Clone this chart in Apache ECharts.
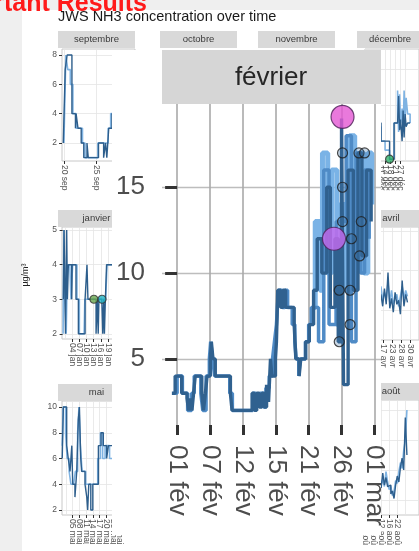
<!DOCTYPE html>
<html><head><meta charset="utf-8">
<script src="https://cdn.jsdelivr.net/npm/echarts@6/dist/echarts.min.js"></script>
<style>html,body{margin:0;padding:0;background:#fff}#c{width:419px;height:551px}</style>
</head><body><div id="c"></div>
<script>
// ---------- data ----------
const febTicks = [0,1,2,3,4,5,6];
const febLabels = ['01 fév','07 fév','12 fév','15 fév','21 fév','26 fév','01 mar'];
const febYTicks = [5,10,15];
const febDarkX = [-0.16,-0.06,0.14,0.30,0.35,0.40,0.45,0.50,0.55,0.75,0.80,0.86,0.91,1.01,1.04,1.09,1.16,1.62,1.67,2.28,2.35,2.42,2.50,2.58,2.65,2.72,2.78,2.84,2.88,2.99,3.02,3.06,3.15,3.22,3.30,3.40,3.56,3.61,3.71,3.76,3.91,4.02,4.15,4.26,4.40,4.55,4.66,4.80,4.90,5.00,5.06,5.20,5.36,5.50,5.62,5.76,5.90];
const febDarkY = [3,4,3,2.7,2,2.7,2,3,4,3,2,3,4,5,6,5,4,3,2,3,2,3,2.2,3,2.2,3.5,2.5,5,4,5,6,9,8,9,8,8,7,5,4,5,6,7,9,12,10,15,8,12,6,19,3.5,16,9,17,11,16,13];
const febMidX = [-0.1,0.0,0.16,0.32,0.44,0.52,0.72,0.78,0.88,0.98,1.02,1.08,1.14,1.60,1.68,2.30,2.40,2.52,2.62,2.70,2.80,2.90,2.96,3.02,3.08,3.20,3.28,3.36,3.50,3.58,3.62,3.70,3.74,3.90,4.00,4.08,4.30,4.46,4.62,4.84,5.14,5.30,5.44,5.58,5.70,5.84];
const febMidY = [3,4,3,2,3,4,3,2,4,5,6,5,4,3,2,3,2.5,3,2.2,3.3,4,5,6,7,9,8,9,8,7,6,5,4,5,6,7,8,6,16,7,13,18,6,17,10,16,12];
const febLightX = [4.12,4.20,4.34,4.42,4.58,4.70,4.86,4.96,5.10,5.24,5.40,5.54,5.68,5.80,5.92];
const febLightY = [8,13,9,17,10,16,7,14,9,18,11,17,10,17,14];
const febPtX = [5.03,5.53,5.70,5.03,5.03,5.60,5.30,5.55,4.93,5.26,5.26,4.93];
const febPtY = [17,17,17,15,13,13,12,11,9,9,7,6];
const febBigX = [5.03,4.77];
const febBigY = [19.1,12];

const sepTicks = [20,25,30], sepLabels = ['20 sep','25 sep','30 sep'], sepYTicks = [2,4,6,8];
const sepDarkX = [19.9,20.2,20.5,21.25,21.5,21.8,21.9,22.2,22.7,23.1,23.6,23.8,25.4,26.2,26.5,26.7,27.0,27.5,28.5];
const sepDarkY = [2,7,8,4,4,3,4,3,2,1,2,1,2,1,2,1,3,4,4];
const sepLightX = [20.0,20.3,20.6,21.0,21.4,21.9,22.4,22.9,23.3,25.3,26.0,26.9,27.3,27.8];
const sepLightY = [2,8,7,6,4,3,3,2,1,2,2,3,4,4];

const decTicks = [0,1,2,3,4,5,6,7,8], decLabels = ['01 déc','04 déc','07 déc','11 déc','14 déc','18 déc','21 déc','27 déc','31 déc'], decYTicks = [2,4,6];
const decX = [0,0.8,1.6,2.4,3.2,4.0,4.9,5.8,6.5,6.7,6.9,7.1,7.4,7.6,7.8,8.0,8.2,8.5,9];
const decDarkY = [2,3,2,3,2,2,1,3,3,4.5,2.6,3.2,2.0,3.7,2.2,3.5,2.8,3.0,3];
const decLightY = [2.5,3,2.5,2.8,2,1.5,1,3,4.8,2.5,4.6,3,3.8,2.5,4.8,3.2,4.4,3.5,3];
const decPtX = [4.9], decPtY = [1];

const janTicks = [1,4,7,10,13,16,19,22,25,28], janLabels = ['01 jan','04 jan','07 jan','10 jan','13 jan','16 jan','19 jan','22 jan','25 jan','28 jan'], janYTicks = [2,3,4,5];
const janDarkX = [0.3,0.6,1.2,1.7,2.0,2.4,3.8,4.0,5.6,6.6,9.4,10.2,10.6,14.0,14.5,14.9,15.2,16.4,16.8,17.2,17.5,17.9,18.4,21];
const janDarkY = [3,5,2,5,3,4,3,4,3,2,3,4,3,2,3,2,3,3,2,3,2,3,4,4];
const janLightX = [0.2,0.5,1.0,1.5,2.0,3.0,3.5,4.2,5.0,6.0,7.0,9.0,9.3,11,12.5,13.8,18.0,18.6,21];
const janLightY = [2,5,3,2,4,4,3,4,4,3,2,2,3,3,3,3,3,4,4];
const janPtX = [13.1,16.5], janPtY = [3,3];

const avrTicks = [0,1,2,3,4,5,6], avrLabels = ['01 avr','06 avr','11 avr','17 avr','23 avr','28 avr','30 avr'], avrYTicks = [4,6,8];
const avrX = [2.3,2.5,2.7,2.9,3.1,3.3,3.5,3.7,3.9,4.1,4.3,4.5,4.7,4.9,5.1,5.3,5.5,5.7];
const avrDarkY = [4.5,4.0,4.8,4.2,5.1,4.3,5.9,4.1,4.6,3.9,4.9,4.3,4.5,3.8,5.5,4.2,4.8,4.4];
const avrLightY = [4.8,4.4,5.2,4.5,4.9,4.6,5.4,4.4,5.0,4.3,4.6,4.8,4.2,4.7,5.2,4.6,5.0,4.7];

const maiTicks = [2,5,8,11,14,17,20,23,26,29], maiLabels = ['02 mai','05 mai','08 mai','11 mai','14 mai','17 mai','20 mai','23 mai','26 mai','29 mai'], maiYTicks = [2,4,6,8,10];
const maiDarkX = [0.3,0.8,2.3,3.0,3.8,4.6,5.0,6.0,6.8,7.5,8.0,8.6,9.0,10.5,11.3,11.7,12.2,13.1,14.0,16.5,17.7,18.7,20.2,21,23];
const maiDarkY = [6,10,7,6,5,7,4,3,5,9,10,6,5,4,3,2,4,2,4,7,8,7,6,7,7];
const maiLightX = [0.3,0.7,1.8,2.5,3.4,4.2,5.4,6.2,7.2,7.8,8.4,9.2,10.8,13.5,15.0,16.2,17.4,18.4,19.5,21.5,23];
const maiLightY = [7,10,8,6,5,4,4,5,8,10,7,5,4,4,4,6,8,6,7,6,7];

const aouTicks = [0,1,2,3,4,5,6], aouLabels = ['01 aoû','05 aoû','09 aoû','12 aoû','16 aoû','22 aoû','27 aoû'], aouYTicks = [2,4,6,8];
const aouX = [2.8,3.0,3.2,3.4,3.6,3.8,4.0,4.2,4.4,4.6,4.8,5.0,5.2,5.4,5.6,5.8,6.0,6.2];
const aouDarkY = [3.2,2.8,3.8,3.0,3.5,2.9,3.0,2.4,2.6,2.1,3.0,3.6,3.2,4.2,4.8,4.0,7.5,5.0];
const aouLightY = [3.6,3.0,3.4,2.9,3.9,3.2,2.7,2.9,2.3,2.6,3.3,3.1,3.9,4.5,4.1,5.3,6.0,8.0];

// ---------- helpers ----------
const FONT = '"Liberation Sans", Arial, sans-serif';
const zip = (xs, ys) => xs.map((x, i) => [x, ys[i]]);
const pick = (ticks, labels) => v => { let b = 0, d = 1e9; ticks.forEach((t, i) => { if (Math.abs(t - v) < d) { d = Math.abs(t - v); b = i; } }); return d < 1e-6 ? labels[b] : ''; };

const grids = [
  {left: 62, top: 49, width: 73, height: 112},   // 0 sep
  {left: 365, top: 49, width: 70, height: 112},  // 1 dec
  {left: 62, top: 227, width: 73, height: 112},  // 2 jan
  {left: 357, top: 227, width: 77, height: 113}, // 3 avr
  {left: 62, top: 401, width: 73, height: 114},  // 4 mai
  {left: 357, top: 400, width: 77, height: 115}, // 5 aou
  {left: 162, top: 104, width: 219, height: 321} // 6 feb overlay
].map((g, i) => Object.assign(g, i < 6 ? {show: true, backgroundColor: '#fff', borderColor: '#c8c8c8', borderWidth: 1} : {show: false}));

function sx(gi, min, max, ticks, labels) {
  return {type: 'value', gridIndex: gi, min, max, axisLine: {show: false},
    axisTick: {show: true, customValues: ticks, length: 3, lineStyle: {color: '#333', width: 1}},
    axisLabel: {customValues: ticks, rotate: -90, fontSize: 8.5, color: '#555', fontFamily: FONT, margin: 4, formatter: pick(ticks, labels)},
    splitLine: {show: true, lineStyle: {color: '#e4e4e4', width: 0.8}}};
}
function sy(gi, min, max, ticks) {
  return {type: 'value', gridIndex: gi, min, max, axisLine: {show: false},
    axisTick: {show: true, customValues: ticks, length: 3, lineStyle: {color: '#333', width: 1}},
    axisLabel: {customValues: ticks, fontSize: 8.5, color: '#555', fontFamily: FONT, margin: 5, formatter: pick(ticks, ticks.map(String))},
    splitLine: {show: true, lineStyle: {color: '#e4e4e4', width: 0.8}}};
}
const xAxes = [
  sx(0, 19.7, 31.1, sepTicks, sepLabels),
  sx(1, 0, 10.77, decTicks, decLabels),
  sx(2, -0.26, 30.3, janTicks, janLabels),
  sx(3, 0, 7, avrTicks, avrLabels),
  sx(4, 0.2, 32.9, maiTicks, maiLabels),
  sx(5, 0, 7.7, aouTicks, aouLabels),
  {type: 'value', gridIndex: 6, min: -0.46, max: 6.2, z: 20, axisLine: {show: false},
   axisTick: {show: true, customValues: febTicks, length: 10, lineStyle: {color: '#333', width: 3}},
   axisLabel: {customValues: febTicks, rotate: -90, fontSize: 26, color: '#4d4d4d', fontFamily: FONT, margin: 20, formatter: pick(febTicks, febLabels)},
   splitLine: {show: true, lineStyle: {color: '#a9a9a9', width: 1.6}}}
];
const yAxes = [
  sy(0, 0.77, 8.41, sepYTicks),
  sy(1, 0.9, 7.1, decYTicks),
  sy(2, 1.85, 5.09, janYTicks),
  sy(3, 2.5, 8.2, avrYTicks),
  sy(4, 1.61, 10.47, maiYTicks),
  sy(5, 1.0, 8.67, aouYTicks),
  {type: 'value', gridIndex: 6, min: 1.15, max: 19.85, z: 20, axisLine: {show: false},
   axisTick: {show: true, customValues: febYTicks, length: 12, lineStyle: {color: '#333', width: 3}},
   axisLabel: {customValues: febYTicks, fontSize: 26, color: '#4d4d4d', fontFamily: FONT, margin: 17, formatter: pick(febYTicks, febYTicks.map(String))},
   splitLine: {show: true, lineStyle: {color: '#bdbdbd', width: 1.4}}}
];

const DARK = '#2d5e8c', LIGHT = '#7fb3e2';
function stepLine(gi, xs, ys, color, width, z) {
  return {type: 'line', xAxisIndex: gi, yAxisIndex: gi, step: 'end', showSymbol: false, silent: true, animation: false,
    data: zip(xs, ys), lineStyle: {color, width}, z};
}
function pts(gi, xs, ys, colors, size, border, z) {
  return {type: 'scatter', xAxisIndex: gi, yAxisIndex: gi, animation: false, silent: true, symbolSize: size, z,
    data: zip(xs, ys).map((p, i) => ({value: p, itemStyle: {color: colors[i % colors.length], borderColor: border, borderWidth: 1.2}}))};
}

const series = [
  stepLine(0, sepLightX, sepLightY, LIGHT, 1.6, 2), stepLine(0, sepDarkX, sepDarkY, DARK, 1.4, 3),
  stepLine(1, decX, decLightY, LIGHT, 1.6, 2), stepLine(1, decX, decDarkY, DARK, 1.4, 3),
  pts(1, decPtX, decPtY, ['#2fb36b'], 8, '#333', 4),
  stepLine(2, janLightX, janLightY, LIGHT, 1.6, 2), stepLine(2, janDarkX, janDarkY, DARK, 1.4, 3),
  pts(2, janPtX, janPtY, ['#6aa84f', '#22b3c3'], 8, '#333', 4),
  stepLine(3, avrX, avrLightY, LIGHT, 1.6, 2), stepLine(3, avrX, avrDarkY, DARK, 1.4, 3),
  stepLine(4, maiLightX, maiLightY, LIGHT, 1.6, 2), stepLine(4, maiDarkX, maiDarkY, DARK, 1.4, 3),
  stepLine(5, aouX, aouLightY, LIGHT, 1.6, 2), stepLine(5, aouX, aouDarkY, DARK, 1.4, 3),
  stepLine(6, febLightX, febLightY, '#7ab3e6', 5, 30),
  stepLine(6, febMidX, febMidY, '#4f8bc6', 3.5, 31),
  stepLine(6, febDarkX, febDarkY, '#30618f', 3.4, 32),
  pts(6, febPtX, febPtY, ['rgba(60,110,160,0.35)'], 10, '#1e1e1e', 34),
  pts(6, febBigX, febBigY, ['#e458d3', '#c86cf0'], 23, '#4a1f55', 35)
];

function strip(x, y, w, h, label, cx) {
  return [
    {type: 'rect', shape: {x, y, width: w, height: h}, style: {fill: '#d9d9d9'}, z: 5},
    {type: 'text', z: 6, style: {text: label, x: cx, y: y + h / 2, align: 'center', verticalAlign: 'middle', font: '9.5px ' + FONT, fill: '#3a3a3a'}}
  ];
}

const graphic = [
  {type: 'rect', shape: {x: 0, y: 0, width: 22, height: 551}, style: {fill: '#efefef'}, z: 1},
  {type: 'rect', shape: {x: 0, y: 0, width: 419, height: 10}, style: {fill: '#efefef'}, z: 1},
  {type: 'text', z: 2, style: {text: 'rtant Results', x: 147, y: 17, align: 'right', verticalAlign: 'bottom', font: 'bold 25px ' + FONT, fill: '#ff1a1a'}},
  {type: 'text', z: 2, style: {text: 'JWS NH3 concentration over time', x: 58, y: 17, verticalAlign: 'middle', font: '14.5px ' + FONT, fill: '#1a1a1a'}},
  {type: 'text', z: 2, x: 25.5, y: 275, rotation: Math.PI / 2, style: {text: 'µg/m³', x: 0, y: 0, align: 'center', verticalAlign: 'middle', font: '9px ' + FONT, fill: '#222'}},
  ...strip(58, 31, 77, 17, 'septembre', 96.5),
  ...strip(160, 31, 77, 17, 'octobre', 198.5),
  ...strip(258, 31, 77, 17, 'novembre', 296.5),
  ...strip(357, 31, 77, 17, 'décembre', 390),
  ...strip(58, 210, 77, 17, 'janvier', 96.5),
  ...strip(357, 210, 77, 17, 'avril', 391),
  ...strip(58, 384, 77, 17, 'mai', 96.5),
  ...strip(357, 383, 77, 17, 'août', 391),
  // zoomed février panel overlay
  {type: 'rect', shape: {x: 112, y: 50, width: 269, height: 485}, style: {fill: '#ffffff'}, z: 10},
  {type: 'rect', shape: {x: 162, y: 50, width: 219, height: 54}, style: {fill: '#d6d6d6'}, z: 11},
  {type: 'text', z: 12, style: {text: 'février', x: 271, y: 78, align: 'center', verticalAlign: 'middle', font: '26px ' + FONT, fill: '#262626'}}
];

const chart = echarts.init(document.getElementById('c'), null, {renderer: 'canvas'});
chart.setOption({backgroundColor: '#ffffff', animation: false, grid: grids, xAxis: xAxes, yAxis: yAxes, series, graphic});
</script></body></html>
